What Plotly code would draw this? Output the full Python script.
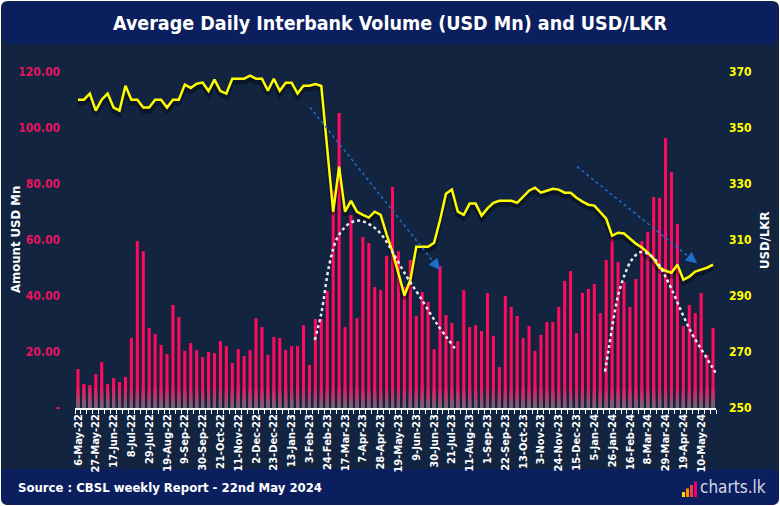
import plotly.graph_objects as go
import pandas as pd

# ---------------- data ----------------
weeks = pd.date_range("2022-05-06", periods=108, freq="7D")
categories = [f"{d.day}-{d.strftime('%b')}-{d.strftime('%y')}" for d in weeks]

volume_usd_mn = [
    13.9, 8.6, 8.2, 12.1, 16.4, 8.6, 10.7, 9.3, 11.1, 25.0, 59.6, 56.0, 28.6, 26.4, 22.5, 19.3, 36.8, 32.5,
    20.4, 23.2, 20.7, 18.2, 20.0, 19.6, 23.9, 22.1, 16.1, 21.0, 18.6, 20.7, 32.1, 28.9, 19.0, 25.4, 25.0,
    20.7, 22.1, 22.1, 29.6, 15.4, 31.8, 31.8, 41.8, 77.5, 105.4, 28.9, 68.9, 32.1, 61.1, 58.9, 43.2, 42.1, 54.3,
    78.9, 56.0, 43.2, 52.9, 32.9, 41.4, 37.9, 21.0, 50.7, 33.2, 30.4, 23.9, 42.1, 28.9, 29.6, 27.5, 41.1, 25.7,
    14.6, 40.0, 36.1, 32.9, 25.0, 29.3, 20.4, 26.1, 30.7, 30.7, 36.1, 45.4, 48.9, 26.8, 41.1, 42.5, 44.3, 33.9,
    52.9, 60.4, 52.1, 45.0, 36.1, 46.1, 59.6, 62.9, 75.4, 75.0, 96.4, 84.3, 65.7, 29.3, 36.8, 33.9, 41.1, 19.0, 28.6,
]

usd_lkr = [
    360.1, 360.1, 362.3, 356.2, 360.1, 362.3, 357.3, 356.2, 365.1, 360.1, 360.1, 357.3, 357.3, 360.1, 360.1, 357.3, 360.1, 360.1,
    365.5, 364.3, 365.8, 366.2, 363.2, 367.3, 363.2, 362.3, 367.6, 367.6, 367.6, 368.7, 367.6, 367.6, 363.3, 367.6, 363.3,
    366.2, 366.2, 362.3, 365.1, 365.1, 365.7, 365.0, 342.5, 320.1, 336.2, 320.1, 324.0, 320.1, 319.0, 318.0, 320.1, 319.0, 312.0,
    305.8, 298.1, 290.2, 295.7, 307.6, 307.6, 307.6, 309.0, 317.1, 326.5, 328.0, 320.1, 319.0, 323.0, 323.0, 318.7, 321.3, 323.3,
    324.0, 324.0, 324.0, 323.3, 325.5, 327.6, 328.7, 326.9, 327.6, 328.3, 328.0, 326.9, 326.9, 325.1, 323.7, 322.6, 322.3, 320.1,
    317.6, 311.5, 312.6, 312.3, 310.5, 308.7, 307.3, 305.5, 303.3, 300.1, 299.0, 298.3, 301.2, 295.8, 296.9, 298.7, 299.4, 300.1, 301.2,
]

# dotted trend curves (position in weeks from first bar, USD Mn)
trend1_pos = [39.9, 41.0, 42.4, 43.8, 45.8, 47.5, 49.7, 51.4, 53.1, 55.4, 57.6, 60.4, 63.5]
trend1_val = [24.3, 33.8, 51.7, 61.2, 66.0, 66.9, 64.8, 61.2, 55.3, 46.9, 39.8, 30.3, 21.3]
trend2_pos = [88.8, 89.4, 90.2, 91.1, 92.2, 93.3, 94.7, 95.9, 97.3, 98.7, 100.1, 101.8, 103.4, 105.1, 106.8, 108.0]
trend2_val = [13.0, 20.7, 31.4, 41.0, 48.1, 52.9, 55.6, 55.2, 52.9, 48.1, 42.1, 33.8, 26.7, 20.7, 14.8, 10.6]

# blue arrows (start pos, start val, end pos, end val)
arrows = [(39.1, 107.4, 61.0, 49.3), (84.1, 86.2, 104.3, 51.7)]

left_ticks = [0, 20, 40, 60, 80, 100, 120]
left_ticktext = ["-", "20.00", "40.00", "60.00", "80.00", "100.00", "120.00"]
right_ticks = [250, 270, 290, 310, 330, 350, 370]

# ---------------- style ----------------
W, H = 780, 506
L, R, T, B = 75, 716, 72, 408
FONT = "DejaVu Sans Condensed"
NAVY = "#122440"
BLUE_BAR = "#0b1f5e"
PINK = (255, 10, 92)
GRAY = (110, 104, 118)


def px(x):
    return (x - L) / (R - L)


def py(y):
    return (B - y) / (B - T)


def mix(t):
    c = [round(PINK[i] + (GRAY[i] - PINK[i]) * t) for i in range(3)]
    return f"rgb({c[0]},{c[1]},{c[2]})"


def rounded(x0, y0, x1, y1, r, corners=(True, True, True, True)):
    tl, tr, br, bl = corners
    p = []
    p.append(f"M{px(x0 + (r if tl else 0))},{py(y0)}")
    if tr:
        p.append(f"L{px(x1 - r)},{py(y0)} Q{px(x1)},{py(y0)} {px(x1)},{py(y0 + r)}")
    else:
        p.append(f"L{px(x1)},{py(y0)}")
    if br:
        p.append(f"L{px(x1)},{py(y1 - r)} Q{px(x1)},{py(y1)} {px(x1 - r)},{py(y1)}")
    else:
        p.append(f"L{px(x1)},{py(y1)}")
    if bl:
        p.append(f"L{px(x0 + r)},{py(y1)} Q{px(x0)},{py(y1)} {px(x0)},{py(y1 - r)}")
    else:
        p.append(f"L{px(x0)},{py(y1)}")
    if tl:
        p.append(f"L{px(x0)},{py(y0 + r)} Q{px(x0)},{py(y0)} {px(x0 + r)},{py(y0)}")
    else:
        p.append(f"L{px(x0)},{py(y0)}")
    p.append("Z")
    return " ".join(p)


fig = go.Figure()

# bars
fig.add_trace(go.Bar(x=categories, y=volume_usd_mn, marker=dict(color=mix(0), line=dict(width=0)),
                     name="Volume", hoverinfo="x+y"))
# bottom fade layers
fade_heights = [7.0, 5.6, 4.2, 2.8, 1.4]
for i, h in enumerate(fade_heights):
    fig.add_trace(go.Bar(x=categories, y=[min(v, h) for v in volume_usd_mn],
                         marker=dict(color=mix((i + 1) / len(fade_heights)), line=dict(width=0)),
                         hoverinfo="skip", showlegend=False))

# USD/LKR line shadow + line
fig.add_trace(go.Scatter(x=categories, y=[v - 1.2 for v in usd_lkr], yaxis="y2", mode="lines",
                         line=dict(color="rgba(0,0,0,0.35)", width=5), hoverinfo="skip"))
fig.add_trace(go.Scatter(x=categories, y=usd_lkr, yaxis="y2", mode="lines",
                         line=dict(color="#ffff00", width=2.5), name="USD/LKR"))

# trend curves
for xs, ys in [(trend1_pos, trend1_val), (trend2_pos, trend2_val)]:
    fig.add_trace(go.Scatter(x=xs, y=ys, xaxis="x2", yaxis="y", mode="lines",
                             line=dict(color="#e8ecf4", width=2.5, dash="dot", shape="spline"),
                             hoverinfo="skip"))

shapes = []
# background panels
shapes.append(dict(type="path", xref="paper", yref="paper", path=rounded(1, 1, 779, 505, 7),
                   fillcolor=NAVY, line=dict(width=0), layer="below"))
shapes.append(dict(type="path", xref="paper", yref="paper", path=rounded(2, 2, 778, 44, 8),
                   fillcolor=BLUE_BAR, line=dict(width=0), layer="below"))
shapes.append(dict(type="path", xref="paper", yref="paper",
                   path=rounded(1, 469, 779, 505, 8, corners=(False, True, True, True)),
                   fillcolor=BLUE_BAR, line=dict(width=0), layer="below"))

annotations = []
for (x0, y0, x1, y1) in arrows:
    shapes.append(dict(type="line", xref="x2", yref="y", x0=x0, y0=y0, x1=x1, y1=y1,
                       line=dict(color="#1b6fca", width=1.5, dash="dot")))
    dxp = (x1 - x0) * (R - L) / 108.0
    dyp = -(y1 - y0) * (B - T) / 120.0
    n = (dxp ** 2 + dyp ** 2) ** 0.5
    annotations.append(dict(x=x1, y=y1, xref="x2", yref="y", text="", showarrow=True,
                            ax=-dxp / n * 12, ay=-dyp / n * 12, arrowhead=2, arrowsize=1.4,
                            arrowwidth=1.6, arrowcolor="#1b6fca"))

# logo bars
logo_cols = ["#ffd400", "#ff9000", "#ff3b30", "#e6007e"]
for i, c in enumerate(logo_cols):
    x0 = 682 + i * 4
    shapes.append(dict(type="rect", xref="paper", yref="paper", x0=px(x0), x1=px(x0 + 3),
                       y0=py(497), y1=py(497 - 5 - 3.5 * i), fillcolor=c, line=dict(width=0)))

annotations += [
    dict(x=px(390), y=py(23), xref="paper", yref="paper", text="<b>Average Daily Interbank Volume (USD Mn) and USD/LKR</b>",
         showarrow=False, font=dict(family=FONT, size=19.5, color="white"), xanchor="center", yanchor="middle"),
    dict(x=px(15), y=py(240), xref="paper", yref="paper", text="<b>Amount USD Mn</b>", textangle=-90,
         showarrow=False, font=dict(family=FONT, size=13, color="white"), xanchor="center", yanchor="middle"),
    dict(x=px(764), y=py(240), xref="paper", yref="paper", text="<b>USD/LKR</b>", textangle=-90,
         showarrow=False, font=dict(family=FONT, size=13, color="white"), xanchor="center", yanchor="middle"),
    dict(x=px(16), y=py(487), xref="paper", yref="paper", text="<b>Source : CBSL weekly Report - 22nd May 2024</b>",
         showarrow=False, font=dict(family=FONT, size=13, color="white"), xanchor="left", yanchor="middle"),
    dict(x=px(698), y=py(487), xref="paper", yref="paper", text="charts.lk",
         showarrow=False, font=dict(family=FONT, size=17, color="#d6d9e4"), xanchor="left", yanchor="middle"),
]

tick_text = [c if i % 3 == 0 else "" for i, c in enumerate(categories)]

fig.update_layout(
    width=W, height=H,
    margin=dict(l=L, r=W - R, t=T, b=H - B),
    paper_bgcolor="white", plot_bgcolor="rgba(0,0,0,0)",
    barmode="overlay", bargap=0.48, showlegend=False,
    font=dict(family=FONT, color="white"),
    xaxis=dict(type="category", categoryorder="array", categoryarray=categories,
               range=[-0.5, len(categories) - 0.5], tickson="boundaries",
               tickmode="array", tickvals=categories, ticktext=tick_text,
               ticks="outside", ticklen=4, tickcolor="white", tickwidth=1,
               showline=True, linecolor="white", linewidth=1.5, showgrid=False,
               tickangle=-90, tickfont=dict(family=FONT, size=11, color="white", weight="bold")),
    xaxis2=dict(overlaying="x", range=[-0.5, len(categories) - 0.5], visible=False),
    yaxis=dict(range=[0, 120], tickmode="array", tickvals=left_ticks, ticktext=left_ticktext,
               showgrid=False, zeroline=False, showline=False, ticks="", ticklabelstandoff=14,
               tickfont=dict(family=FONT, size=12, color="#e8145c", weight="bold")),
    yaxis2=dict(overlaying="y", side="right", range=[250, 370], tickmode="array", tickvals=right_ticks,
                showgrid=False, zeroline=False, showline=False, ticks="", ticklabelstandoff=12,
                tickfont=dict(family=FONT, size=12, color="#ffff00", weight="bold")),
    shapes=shapes, annotations=annotations,
)

fig.write_html("out.html", config={"displayModeBar": False},
               post_script="document.body.style.margin='0px';document.body.style.overflow='hidden';")
